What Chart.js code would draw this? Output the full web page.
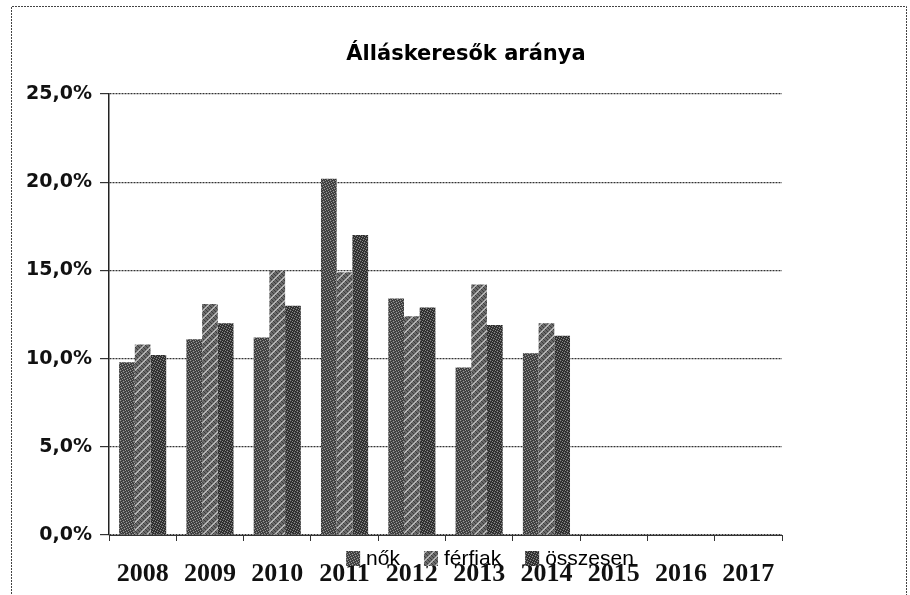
<!DOCTYPE html>
<html><head><meta charset="utf-8">
<script src="https://cdn.jsdelivr.net/npm/chart.js@4.4.1/dist/chart.umd.min.js"></script>
<style>html,body{margin:0;padding:0;background:#fff}#wrap{width:910px;height:595px;position:relative}</style>
</head><body><div id="wrap"><canvas id="c" width="910" height="595"></canvas></div>
<script>
const chartTitle = 'Álláskeresők aránya';
const years = ['2008','2009','2010','2011','2012','2013','2014','2015','2016','2017'];
const nok = [9.8, 11.1, 11.2, 20.2, 13.4, 9.5, 10.3, null, null, null];
const ferfiak = [10.8, 13.1, 15.0, 14.9, 12.4, 14.2, 12.0, null, null, null];
const osszesen = [10.2, 12.0, 13.0, 17.0, 12.9, 11.9, 11.3, null, null, null];
const seriesNames = ['nők', 'férfiak', 'összesen'];
const yMin = 0, yMax = 25, yStep = 5;

function makePattern(kind) {
  const size = kind === 'stripe' ? 8 : 10;
  const c = document.createElement('canvas');
  c.width = size; c.height = size;
  const g = c.getContext('2d');
  for (let x = 0; x < size; x++) {
    for (let y = 0; y < size; y++) {
      let col;
      if (kind === 'a') {
        col = ((x + 2 * y) % 5 === 0) ? '#9a9a9a' : ((x + y) % 2 === 0 ? '#353535' : '#555555');
      } else if (kind === 'stripe') {
        const d = (x + y) % 8;
        col = (d === 0 || d === 1) ? '#b4b4b4' : ((x * 3 + y) % 4 === 0 ? '#3c3c3c' : '#6a6a6a');
      } else {
        col = ((2 * x + y) % 5 === 0) ? '#8a8a8a' : ((x + y) % 2 === 0 ? '#262626' : '#454545');
      }
      g.fillStyle = col;
      g.fillRect(x, y, 1, 1);
    }
  }
  return g.createPattern(c, 'repeat');
}
const ctx = document.getElementById('c').getContext('2d');
const fills = [makePattern('a'), makePattern('stripe'), makePattern('c')];

const decor = {
  id: 'decor',
  beforeDraw(chart) {
    const c = chart.ctx;
    c.save();
    c.fillStyle = '#fff';
    c.fillRect(0, 0, chart.width, chart.height);
    c.strokeStyle = '#444';
    c.lineWidth = 1;
    c.setLineDash([2, 1]);
    c.beginPath();
    c.moveTo(11.5, 600); c.lineTo(11.5, 6.5); c.lineTo(906.5, 6.5); c.lineTo(906.5, 600);
    c.stroke();
    c.restore();
  },
  afterDraw(chart) {
    const c = chart.ctx;
    c.save();
    c.fillStyle = '#000';
    c.font = 'bold 21px "DejaVu Sans"';
    c.textAlign = 'center';
    c.textBaseline = 'middle';
    c.fillText(chartTitle, 466, 55);
    // legend
    c.font = '21px "Liberation Sans"';
    c.textAlign = 'left';
    const box = 14, gapText = 6, gapItem = 24;
    const items = chart.data.datasets.map(d => ({label: d.label, fill: d.backgroundColor, w: c.measureText(d.label).width}));
    let total = 0;
    items.forEach((it, i) => { total += box + gapText + it.w + (i < items.length - 1 ? gapItem : 0); });
    let x = 490 - total / 2;
    items.forEach(it => {
      c.fillStyle = it.fill;
      c.fillRect(x, 551, box, 15);
      c.fillStyle = '#000';
      c.fillText(it.label, x + box + gapText, 559);
      x += box + gapText + it.w + gapItem;
    });
    c.restore();
  }
};

new Chart(ctx, {
  type: 'bar',
  data: {
    labels: years,
    datasets: [
      {label: seriesNames[0], data: nok, backgroundColor: fills[0]},
      {label: seriesNames[1], data: ferfiak, backgroundColor: fills[1]},
      {label: seriesNames[2], data: osszesen, backgroundColor: fills[2]}
    ]
  },
  options: {
    responsive: false,
    animation: false,
    devicePixelRatio: 1,
    layout: {padding: {top: 94, right: 128, left: 0, bottom: 0}},
    datasets: {bar: {categoryPercentage: 0.7, barPercentage: 1.0, borderWidth: 0}},
    plugins: {legend: {display: false}, title: {display: false}, tooltip: {enabled: false}},
    scales: {
      x: {
        afterFit(s) { s.height = 60; },
        grid: {offset: true, drawOnChartArea: false, tickLength: 6, color: '#333', lineWidth: 1},
        border: {display: true, color: '#333', width: 1},
        ticks: {color: '#111', padding: 18, font: {family: '"Liberation Serif"', weight: 'bold', size: 26}, maxRotation: 0, autoSkip: false}
      },
      y: {
        min: yMin, max: yMax,
        afterFit(s) { s.width = 109; },
        grid: {color: '#333', lineWidth: 1.2, tickLength: 9},
        border: {display: true, color: '#222', width: 1.5, dash: [2, 1]},
        ticks: {stepSize: yStep, color: '#111', padding: 8,
          font: {family: '"DejaVu Sans"', weight: 'bold', size: 19},
          callback: v => v.toFixed(1).replace('.', ',') + '%'}
      }
    }
  },
  plugins: [decor]
});
</script></body></html>
